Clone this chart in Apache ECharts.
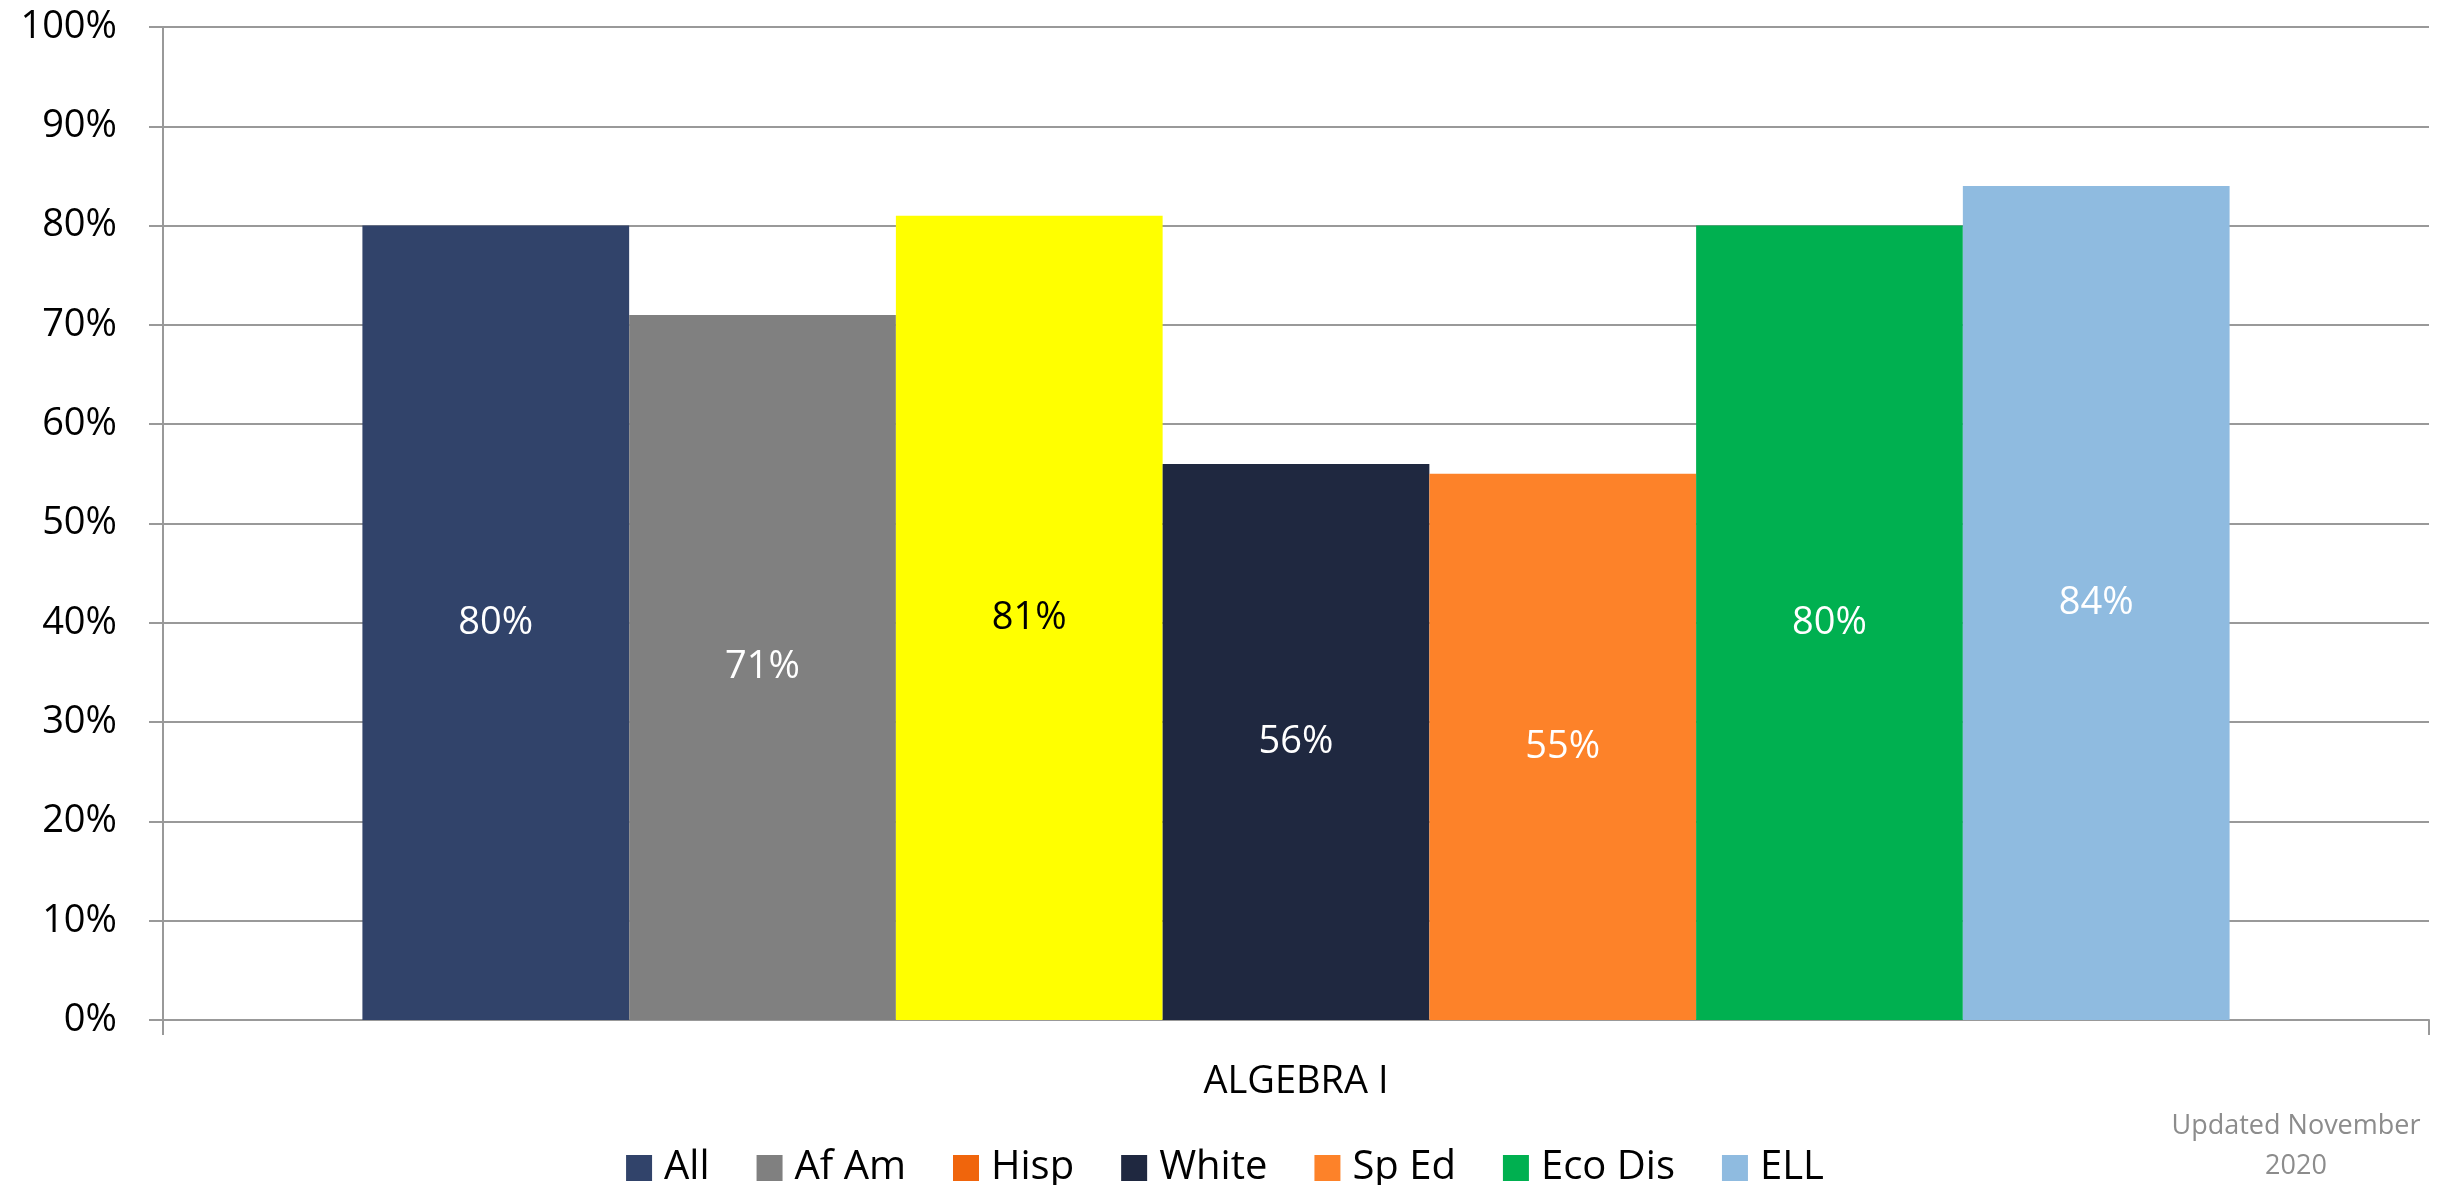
<!DOCTYPE html>
<html>
<head>
<meta charset="utf-8">
<script src="https://cdn.jsdelivr.net/npm/echarts@6/dist/echarts.min.js"></script>
<style>
  html, body { margin: 0; padding: 0; background: #fff; }
  #main { width: 2450px; height: 1185px; }
</style>
</head>
<body>
<div id="main"></div>
<script>
// data
var categories = ['ALGEBRA I'];
var groups = ['All', 'Af Am', 'Hisp', 'White', 'Sp Ed', 'Eco Dis', 'ELL'];
var passRates = [80, 71, 81, 56, 55, 80, 84];

// colours
var barColors = ['#31436A', '#808080', '#FFFF00', '#1F2840', '#FD8229', '#00B050', '#8FBBE0'];
var legendColors = ['#31436A', '#808080', '#F0650C', '#1F2840', '#FD8229', '#00B050', '#8FBBE0'];
var labelColors = ['#fff', '#fff', '#000', '#fff', '#fff', '#fff', '#fff'];

var font = 'Open Sans';

var series = groups.map(function (g, i) {
  return {
    name: g,
    type: 'bar',
    data: [passRates[i]],
    barGap: '0%',
    barCategoryGap: '17.6%',
    itemStyle: { color: barColors[i] },
    label: {
      show: true,
      position: 'inside',
      formatter: '{c}%',
      color: labelColors[i],
      fontFamily: font,
      fontSize: 38
    }
  };
});

var option = {
  animation: false,
  backgroundColor: '#fff',
  grid: { left: 163, right: 21, top: 27, bottom: 165 },
  legend: {
    left: 'center',
    top: 1143,
    itemWidth: 26,
    itemHeight: 26,
    itemGap: 47,
    icon: 'rect',
    textStyle: { fontFamily: font, fontSize: 40, color: '#000', padding: [0, 0, 0, 7] },
    data: groups.map(function (g, i) {
      return { name: g, itemStyle: { color: legendColors[i] } };
    })
  },
  xAxis: {
    type: 'category',
    data: categories,
    axisLine: { lineStyle: { color: '#999', width: 2 } },
    axisTick: { show: true, length: 15, lineStyle: { color: '#999', width: 2 } },
    axisLabel: { color: '#000', fontFamily: font, fontSize: 38, margin: 43 }
  },
  yAxis: {
    type: 'value',
    min: 0,
    max: 100,
    interval: 10,
    axisLine: { show: true, lineStyle: { color: '#999', width: 2 } },
    axisTick: { show: true, length: 14, lineStyle: { color: '#999', width: 2 } },
    splitLine: { lineStyle: { color: '#999', width: 2 } },
    axisLabel: { formatter: '{value}%', color: '#000', fontFamily: font, fontSize: 38, margin: 46 }
  },
  graphic: [{
    type: 'text',
    x: 2296,
    y: 1106,
    style: {
      text: 'Updated November\n2020',
      fill: '#8c8c8c',
      fontFamily: font,
      fontSize: 27,
      lineHeight: 40,
      align: 'center'
    }
  }],
  series: series
};

var myChart = echarts.init(document.getElementById('main'));
myChart.setOption(option);
</script>
</body>
</html>
